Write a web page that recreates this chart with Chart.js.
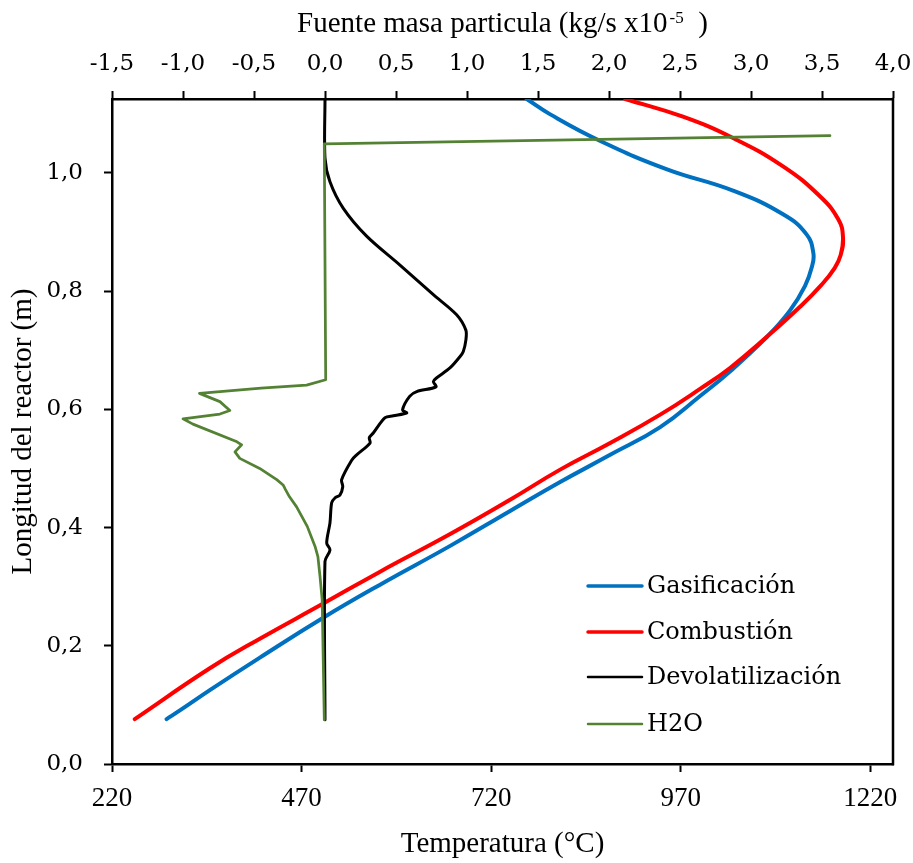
<!DOCTYPE html>
<html><head><meta charset="utf-8">
<script src="https://cdn.jsdelivr.net/npm/chart.js@4/dist/chart.umd.min.js"></script>
<style>html,body{margin:0;padding:0;background:#fff;} #wrap{width:913px;height:863px;}</style>
</head><body><div id="wrap"><canvas id="c" width="913" height="863"></canvas></div>
<script>
// ---- tick labels ----
const xTicks = [220, 470, 720, 970, 1220];
const x2Ticks = [-1.5, -1.0, -0.5, 0, 0.5, 1.0, 1.5, 2.0, 2.5, 3.0, 3.5, 4.0];
const yTicks = [0, 0.2, 0.4, 0.6, 0.8, 1.0];
const seriesNames = ['Gasificación', 'Combustión', 'Devolatilización', 'H2O'];

// ---- Gasificación: temperature (°C) vs reactor length (m) ----
const gasT = [292, 310, 349, 415, 498, 573, 666, 745, 811, 877, 943, 996, 1035, 1084, 1114, 1134, 1143, 1145, 1136, 1105, 1039, 952, 864, 798, 767];
const gasL = [0.076, 0.091, 0.125, 0.180, 0.247, 0.303, 0.369, 0.428, 0.477, 0.523, 0.570, 0.623, 0.664, 0.723, 0.767, 0.809, 0.841, 0.864, 0.896, 0.930, 0.970, 1.006, 1.054, 1.099, 1.125];

// ---- Combustión ----
const combT = [250, 349, 415, 498, 573, 666, 745, 811, 877, 943, 996, 1035, 1084, 1127, 1156, 1173, 1181, 1184, 1178, 1154, 1105, 1039, 973, 897];
const combL = [0.076, 0.162, 0.212, 0.271, 0.325, 0.389, 0.447, 0.498, 0.543, 0.591, 0.635, 0.670, 0.723, 0.773, 0.811, 0.839, 0.861, 0.892, 0.921, 0.960, 1.011, 1.059, 1.095, 1.125];

// ---- Devolatilización: particle mass source (kg/s x1e-5) vs length ----
const devF = [0.0, 0.0, 0.035, 0.012, 0.035, 0.047, 0.07, 0.105, 0.125, 0.117, 0.188, 0.223, 0.317, 0.312, 0.34, 0.423, 0.481, 0.575, 0.546, 0.596, 0.646, 0.781, 0.763, 0.785, 0.88, 0.95, 0.974, 0.992, 0.992, 0.927, 0.763, 0.528, 0.293, 0.129, 0.035, 0.0, 0.0];
const devL = [0.075, 0.343, 0.362, 0.374, 0.408, 0.442, 0.450, 0.455, 0.469, 0.481, 0.514, 0.523, 0.543, 0.552, 0.560, 0.586, 0.589, 0.594, 0.599, 0.622, 0.630, 0.638, 0.647, 0.653, 0.670, 0.689, 0.698, 0.717, 0.734, 0.760, 0.794, 0.844, 0.893, 0.940, 0.985, 1.025, 1.125];

// ---- H2O ----
const h2oF = [-0.005, -0.02, -0.035, -0.05, -0.07, -0.125, -0.2, -0.25, -0.28, -0.295, -0.34, -0.46, -0.60, -0.634, -0.587, -0.62, -0.93, -1.0, -0.74, -0.67, -0.74, -0.884, -0.45, -0.13, 0.005, -0.005, 3.556];
const h2oL = [0.075, 0.278, 0.317, 0.351, 0.368, 0.402, 0.435, 0.452, 0.465, 0.472, 0.481, 0.500, 0.517, 0.528, 0.540, 0.545, 0.575, 0.584, 0.592, 0.598, 0.613, 0.627, 0.636, 0.641, 0.650, 1.049, 1.063];

const pts = (xs, ys) => xs.map((v, i) => ({ x: v, y: ys[i] }));
const comma1 = v => Number(v).toFixed(1).replace('.', ',');

const serif = '"Liberation Serif", "Times New Roman", serif';
const slab = '"DejaVu Serif", serif';

const tickGrid = { display: true, drawOnChartArea: false, drawTicks: true, tickLength: 8, tickColor: '#000', tickWidth: 2, color: '#000' };
const axisBorder = { display: true, color: '#000', width: 2.5 };
const noPad = s => { s.paddingLeft = 0; s.paddingRight = 0; };

const customPlugin = {
  id: 'custom',
  afterDraw(chart) {
    const { ctx, chartArea: a } = chart;
    ctx.save();
    // right border of plot area
    ctx.strokeStyle = '#000';
    ctx.lineWidth = 2.5;
    ctx.beginPath();
    ctx.moveTo(a.right, a.top - 1.25);
    ctx.lineTo(a.right, a.bottom + 1.25);
    ctx.stroke();

    // top axis title with superscript
    const t1 = 'Fuente masa particula (kg/s x10';
    const t2 = '-5';
    const t3 = '  )';
    ctx.fillStyle = '#000';
    ctx.textBaseline = 'alphabetic';
    ctx.textAlign = 'left';
    ctx.font = '29px ' + serif;
    const w1 = ctx.measureText(t1).width;
    const w3 = ctx.measureText(t3).width;
    ctx.font = '17px ' + serif;
    const w2 = ctx.measureText(t2).width;
    const total = w1 + 2 + w2 + w3;
    const x0 = (a.left + a.right) / 2 - total / 2;
    ctx.font = '29px ' + serif;
    ctx.fillText(t1, x0, 32);
    ctx.font = '17px ' + serif;
    ctx.fillText(t2, x0 + w1 + 2, 23);
    ctx.font = '29px ' + serif;
    ctx.fillText(t3, x0 + w1 + 2 + w2, 32);

    // legend inside plot area
    const rows = [178, 132, 87, 40];
    const lw = [3.5, 3.5, 2.5, 2.5];
    chart.data.datasets.forEach((ds, i) => {
      const y = a.bottom - rows[i];
      ctx.strokeStyle = ds.borderColor;
      ctx.lineWidth = lw[i];
      ctx.lineCap = 'round';
      ctx.beginPath();
      ctx.moveTo(a.right - 305, y);
      ctx.lineTo(a.right - 251, y);
      ctx.stroke();
      ctx.fillStyle = '#000';
      ctx.font = '24px ' + slab;
      ctx.textBaseline = 'middle';
      ctx.fillText(ds.label, a.right - 246, y + 1);
    });
    ctx.restore();
  }
};

const lineStyle = { showLine: true, pointRadius: 0, borderJoinStyle: 'round', borderCapStyle: 'round', yAxisID: 'y' };

new Chart(document.getElementById('c'), {
  type: 'scatter',
  data: {
    datasets: [
      Object.assign({ label: seriesNames[0], data: pts(gasT, gasL), xAxisID: 'x', borderColor: '#0070C0', backgroundColor: '#0070C0', borderWidth: 4, tension: 0.45, order: 4 }, lineStyle),
      Object.assign({ label: seriesNames[1], data: pts(combT, combL), xAxisID: 'x', borderColor: '#FF0000', backgroundColor: '#FF0000', borderWidth: 4, tension: 0.45, order: 3 }, lineStyle),
      Object.assign({ label: seriesNames[2], data: pts(devF, devL), xAxisID: 'x2', borderColor: '#000000', backgroundColor: '#000000', borderWidth: 3, tension: 0.3, order: 2 }, lineStyle),
      Object.assign({ label: seriesNames[3], data: pts(h2oF, h2oL), xAxisID: 'x2', borderColor: '#548235', backgroundColor: '#548235', borderWidth: 2.75, tension: 0, order: 1 }, lineStyle)
    ]
  },
  options: {
    responsive: false,
    animation: false,
    devicePixelRatio: 1,
    layout: { padding: { left: 0, right: 20, top: 0, bottom: 0 } },
    plugins: { legend: { display: false }, tooltip: { enabled: false } },
    scales: {
      x: {
        type: 'linear', position: 'bottom', min: 220, max: 1250,
        afterBuildTicks: s => { s.ticks = xTicks.map(v => ({ value: v })); },
        afterFit: s => { s.height = 99; noPad(s); },
        ticks: { color: '#000', font: { family: serif, size: 27 }, padding: 11, maxRotation: 0, autoSkip: false, callback: v => String(v) },
        grid: tickGrid, border: axisBorder,
        title: { display: true, text: 'Temperatura (°C)', color: '#000', font: { family: serif, size: 29 }, padding: { top: 0, bottom: 1 } }
      },
      x2: {
        type: 'linear', position: 'top', min: -1.5, max: 4.0,
        afterBuildTicks: s => { s.ticks = x2Ticks.map(v => ({ value: v })); },
        afterFit: s => { s.height = 99; noPad(s); },
        ticks: { color: '#000', font: { family: slab, size: 23 }, padding: 13, maxRotation: 0, autoSkip: false, callback: v => comma1(v) },
        grid: tickGrid, border: axisBorder,
        title: { display: false }
      },
      y: {
        type: 'linear', position: 'left', min: 0, max: 1.125,
        afterBuildTicks: s => { s.ticks = yTicks.map(v => ({ value: v })); },
        afterFit: s => { s.width = 112; },
        ticks: { color: '#000', font: { family: slab, size: 23 }, padding: 21, autoSkip: false, callback: v => comma1(v) },
        grid: tickGrid, border: axisBorder,
        title: { display: true, text: 'Longitud del reactor (m)', color: '#000', font: { family: serif, size: 29 }, padding: { top: 6, bottom: 0 } }
      }
    }
  },
  plugins: [customPlugin]
});
</script>
</body></html>
